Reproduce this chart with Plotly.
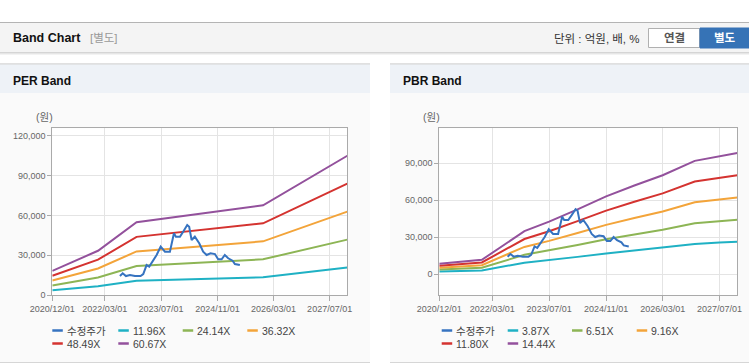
import plotly.graph_objects as go

W, H = 749, 364
def X(p): return p / W
def Y(p): return 1 - p / H

FONT = "Liberation Sans, Arial, Noto Sans CJK KR, sans-serif"

# ---------------- data ----------------
price_dates = ["2022-07-10","2022-08-03","2022-08-31","2022-10-05","2022-11-17","2023-01-05","2023-01-28",
               "2023-02-26","2023-03-21","2023-04-24","2023-05-24","2023-06-28","2023-08-04","2023-09-16",
               "2023-10-21","2023-11-07","2023-12-12","2024-01-09","2024-02-13","2024-03-01","2024-03-22",
               "2024-04-19","2024-05-27","2024-06-30","2024-07-30","2024-09-02","2024-10-10","2024-11-07",
               "2024-12-07","2025-01-04","2025-02-02","2025-03-12","2025-04-01","2025-05-14"]
price_values = [14300,16400,14300,15100,14300,14300,15800,22600,21400,26400,30200,36500,32700,32700,
                46600,44000,44000,47800,52800,51500,41500,44000,39000,32700,30200,31500,30900,26900,
                26900,30200,27700,25900,23400,22600]

per_dates = ["2020-12-01","2022-01-01","2022-12-01","2025-12-01","2027-12-01"]
per_11_96 = [3588, 6578, 10824, 13335, 20715]
per_24_14 = [7242, 13277, 21847, 26916, 41810]
per_36_32 = [10896, 19976, 32870, 40497, 62906]
per_48_49 = [14547, 26670, 43883, 54066, 83985]
per_60_67 = [18201, 33369, 54906, 67647, 105080]

pbr_dates = ["2020-12-01","2021-12-01","2022-12-01","2023-07-01","2024-03-01","2024-11-01",
             "2025-07-01","2026-03-01","2026-12-01","2027-07-01","2027-12-01"]
pbr_3_87 = [2264, 3135, 9381, 11443, 14126, 16939, 19296, 21521, 24656, 25701, 26343]
pbr_6_51 = [3808, 5273, 15780, 19250, 23762, 28494, 32459, 36202, 41475, 43233, 44314]
pbr_9_16 = [5359, 7420, 22204, 27086, 33434, 40093, 45672, 50939, 58358, 60832, 62352]
pbr_11_80 = [6903, 9558, 28603, 34893, 43070, 51649, 58835, 65620, 75178, 78364, 80323]
pbr_14_44 = [8447, 11696, 35003, 42699, 52706, 63204, 71998, 80301, 91997, 95896, 98293]

x_tickvals = ["2020-12-01","2022-03-01","2023-07-01","2024-11-01","2026-03-01","2027-07-01"]
x_ticktext = ["2020/12/01","2022/03/01","2023/07/01","2024/11/01","2026/03/01","2027/07/01"]

per_labels = ["수정주가", "11.96X", "24.14X", "36.32X", "48.49X", "60.67X"]
pbr_labels = ["수정주가", "3.87X", "6.51X", "9.16X", "11.80X", "14.44X"]

C_PRICE = "#3673c0"
COLORS = ["#1fb1c4", "#8db555", "#f3a43a", "#d43330", "#93519c"]

fig = go.Figure()

def add_chart(xa, ya, dates, bands):
    for vals, col in zip(bands, COLORS):
        fig.add_trace(go.Scatter(x=dates, y=vals, mode="lines", line=dict(color=col, width=2),
                                 xaxis=xa, yaxis=ya, showlegend=False, hoverinfo="skip"))
    fig.add_trace(go.Scatter(x=price_dates, y=price_values, mode="lines",
                             line=dict(color=C_PRICE, width=2), xaxis=xa, yaxis=ya,
                             showlegend=False, hoverinfo="skip"))

add_chart("x", "y", per_dates, [per_11_96, per_24_14, per_36_32, per_48_49, per_60_67])
add_chart("x2", "y2", pbr_dates, [pbr_3_87, pbr_6_51, pbr_9_16, pbr_11_80, pbr_14_44])

xcommon = dict(type="date", range=["2020-12-01", "2027-12-01"], tickvals=x_tickvals, ticktext=x_ticktext,
               showgrid=True, gridcolor="#e4e4e4", gridwidth=1, showline=True, linecolor="#aaaaaa",
               linewidth=1, mirror=True, ticks="outside", ticklen=5, tickcolor="#aaaaaa",
               tickfont=dict(family=FONT, size=9, color="#666666"), zeroline=False, fixedrange=True,
               automargin=False)
ycommon = dict(showgrid=True, gridcolor="#e4e4e4", gridwidth=1, showline=True, linecolor="#aaaaaa",
               linewidth=1, mirror=True, ticks="outside", ticklen=4, tickcolor="#aaaaaa",
               tickformat=",", tickfont=dict(family=FONT, size=9, color="#666666"), zeroline=False,
               fixedrange=True, automargin=False)

shapes = []
ann = []

def rect(x0, y0, x1, y1, fill, line=None, lw=0, layer="below"):
    shapes.append(dict(type="rect", xref="paper", yref="paper", x0=X(x0), x1=X(x1), y0=Y(y1), y1=Y(y0),
                       fillcolor=fill, line=dict(color=line or fill, width=lw), layer=layer))

def hline(x0, x1, y, color, w=1):
    shapes.append(dict(type="line", xref="paper", yref="paper", x0=X(x0), x1=X(x1), y0=Y(y), y1=Y(y),
                       line=dict(color=color, width=w), layer="below"))

def text(x, y, s, size, color, bold=False, xanchor="left"):
    if bold:
        s = "<b>" + s + "</b>"
    ann.append(dict(xref="paper", yref="paper", x=X(x), y=Y(y), text=s, showarrow=False,
                    xanchor=xanchor, yanchor="middle", font=dict(family=FONT, size=size, color=color)))

# header bar
rect(0, 22.5, 749, 52.5, "#f4f4f4")
hline(0, 749, 22.5, "#b4b4b4", 1.2)
hline(0, 749, 52.8, "#c8c8c8", 1.2)
hline(0, 749, 54, "#e8e8e8", 1)
text(10.5, 38.5, "Band Chart", 12.5, "#111111", bold=True)
text(87.5, 38.5, "[별도]", 11.5, "#999999")
text(642, 38.5, "단위 : 억원, 배, %", 11.5, "#333333", xanchor="right")
rect(648.5, 28.5, 699.5, 47.5, "#ffffff", line="#b0b0b0", lw=1)
text(674, 38.5, "연결", 11.5, "#555555", bold=True, xanchor="center")
rect(700, 28, 749, 48, "#3673b6", line="#3673b6", lw=1)
text(724.5, 38.5, "별도", 11.5, "#ffffff", bold=True, xanchor="center")

# panels
for (px0, px1, title) in [(0, 370, "PER Band"), (390, 749, "PBR Band")]:
    rect(px0, 93, px1, 362, "#fafafa")
    rect(px0, 64, px1, 93, "#eef2f7")
    hline(px0, px1, 63.8, "#d6d6d6", 1.2)
    hline(px0, px1, 362.5, "#d6d6d6", 1.2)
    text(px0 + 10.5, 80.5, title, 12, "#111111", bold=True)

# plot area backgrounds
rect(52.3, 128.3, 347.3, 295, "#ffffff")
rect(439.3, 128.3, 737.3, 295, "#ffffff")

text(34, 117, "(원)", 10.5, "#666666")
text(421, 117, "(원)", 10.5, "#666666")

# legends
def legend(items, labels):
    for (sx, tx, ly), lab, col in zip(items, labels, [C_PRICE] + COLORS):
        shapes.append(dict(type="line", xref="paper", yref="paper", x0=X(sx), x1=X(sx + 10.5),
                           y0=Y(ly), y1=Y(ly), line=dict(color=col, width=2.5), layer="above"))
        text(tx, ly, lab, 10.5, "#444444")

r1, r2 = 330.5, 343.5
legend([(52.3, 64.5, r1), (118.3, 130.5, r1), (182.7, 195, r1), (247.3, 260, r1),
        (52.3, 64.5, r2), (118.3, 130.5, r2)], per_labels)
legend([(441.7, 454, r1), (507.7, 520, r1), (572, 584, r1), (636.7, 649, r1),
        (441.7, 454, r2), (507.7, 520, r2)], pbr_labels)

fig.update_layout(
    width=W, height=H, margin=dict(l=0, r=0, t=0, b=0, pad=0, autoexpand=False),
    paper_bgcolor="#ffffff", plot_bgcolor="#ffffff",
    xaxis=dict(domain=[X(52.3), X(347.3)], anchor="y", **xcommon),
    yaxis=dict(domain=[Y(295), Y(128.3)], anchor="x", range=[0, 125800],
               tickvals=[0, 30000, 60000, 90000, 120000], **ycommon),
    xaxis2=dict(domain=[X(439.3), X(737.3)], anchor="y2", **xcommon),
    yaxis2=dict(domain=[Y(295), Y(128.3)], anchor="x2", range=[-16800, 118400],
                tickvals=[0, 30000, 60000, 90000], **ycommon),
    shapes=shapes, annotations=ann, showlegend=False,
)

fig.write_html("out.html", config={"displayModeBar": False, "staticPlot": True},
               post_script="document.body.style.margin='0px';")
